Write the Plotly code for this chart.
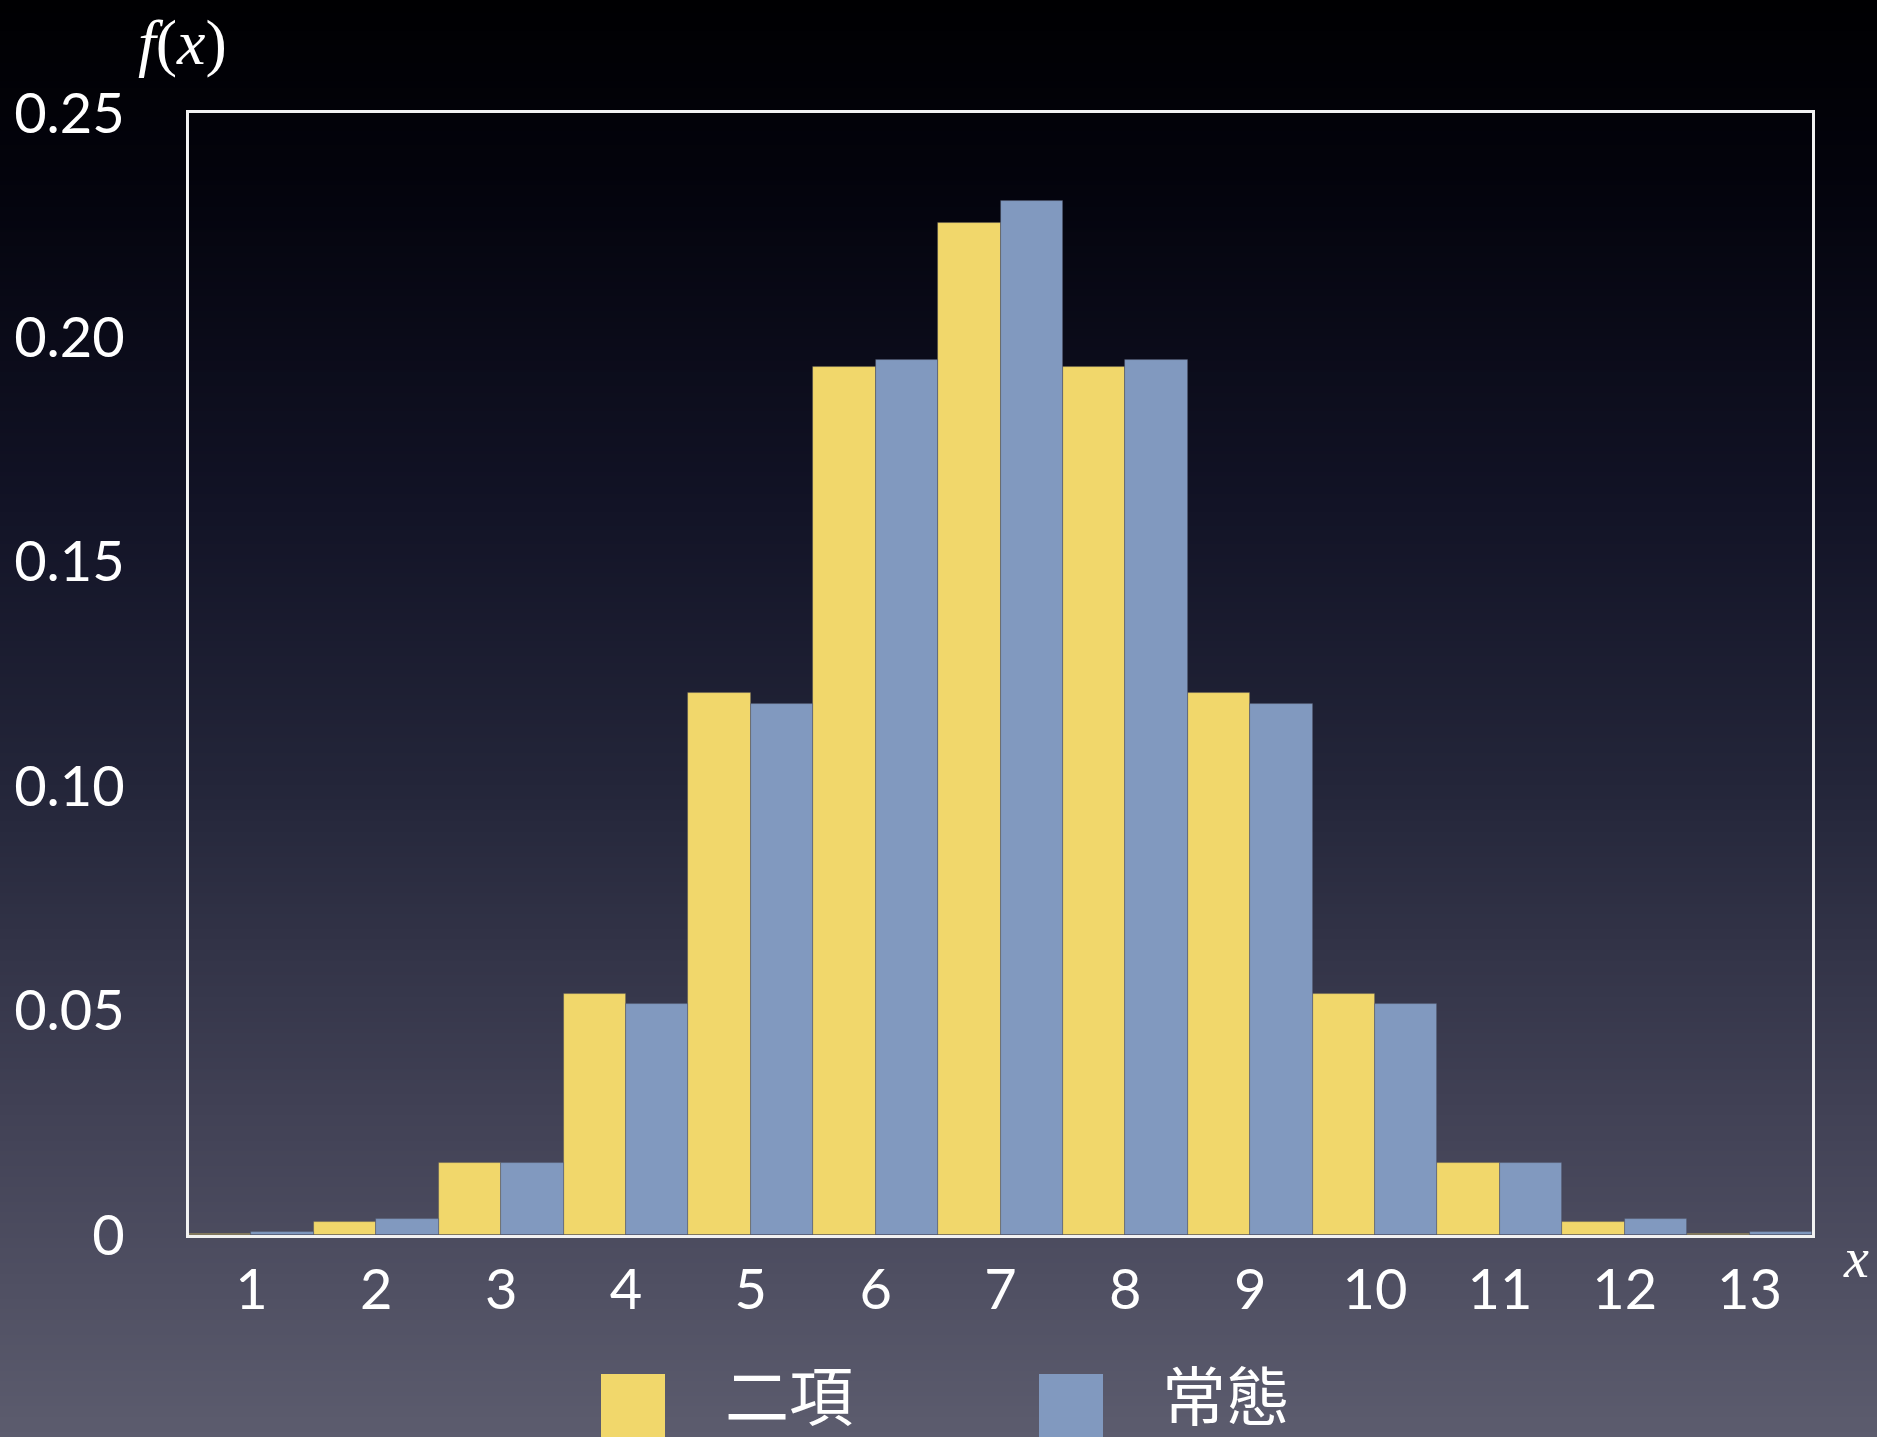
import base64
import struct
import zlib

import plotly.graph_objects as go

# Data: binomial probabilities vs. normal approximation, x = 1..13
categories = [str(i) for i in range(1, 14)]
binomial = [0.0002, 0.0029, 0.0161, 0.0537, 0.1208, 0.1934, 0.2256,
            0.1934, 0.1208, 0.0537, 0.0161, 0.0029, 0.0002]
normal = [0.0006, 0.0036, 0.0160, 0.0514, 0.1183, 0.1950, 0.2303,
          0.1950, 0.1183, 0.0514, 0.0160, 0.0036, 0.0006]
y_ticks = [0, 0.05, 0.10, 0.15, 0.20, 0.25]
y_tick_text = ["0", "0.05", "0.10", "0.15", "0.20", "0.25"]
series_names = ["二項", "常態"]

YELLOW = "#F1D76B"
BLUE = "#8199BF"
W, H = 1877, 1437
L, R, T, B = 189, 65, 113, 202


def gradient_png(stops, height=400, width=2):
    """Build a vertical gradient PNG (top to bottom) as a data URI."""
    rows = []
    for j in range(height):
        t = j / (height - 1)
        for k in range(len(stops) - 1):
            t0, c0 = stops[k]
            t1, c1 = stops[k + 1]
            if t0 <= t <= t1:
                f = (t - t0) / (t1 - t0) if t1 > t0 else 0
                c = [round(a + (b - a) * f) for a, b in zip(c0, c1)]
                break
        rows.append(b"\x00" + bytes(c) * width)
    raw = b"".join(rows)

    def chunk(tag, data):
        return (struct.pack(">I", len(data)) + tag + data
                + struct.pack(">I", zlib.crc32(tag + data) & 0xFFFFFFFF))

    png = (b"\x89PNG\r\n\x1a\n"
           + chunk(b"IHDR", struct.pack(">IIBBBBB", width, height, 8, 2, 0, 0, 0))
           + chunk(b"IDAT", zlib.compress(raw, 9))
           + chunk(b"IEND", b""))
    return "data:image/png;base64," + base64.b64encode(png).decode()


bg = gradient_png([
    (0.00, (0, 0, 2)),
    (0.12, (3, 3, 12)),
    (0.35, (18, 19, 38)),
    (0.55, (36, 38, 58)),
    (0.78, (66, 66, 86)),
    (1.00, (92, 92, 110)),
])

fig = go.Figure()
fig.add_trace(go.Bar(
    x=categories, y=binomial, name=series_names[0],
    marker=dict(color=YELLOW, line=dict(color="rgba(70,70,85,0.45)", width=0.8)),
))
fig.add_trace(go.Bar(
    x=categories, y=normal, name=series_names[1],
    marker=dict(color=BLUE, line=dict(color="rgba(70,70,85,0.45)", width=0.8)),
))

pw, ph = W - L - R, H - T - B
px = lambda x: (x - L) / pw
py = lambda y: (H - B - y) / ph

fig.add_layout_image(dict(
    source=bg, xref="paper", yref="paper",
    x=px(0), y=py(0), sizex=W / pw, sizey=H / ph,
    sizing="stretch", layer="below", xanchor="left", yanchor="top",
))

serif = "Liberation Serif, Times New Roman, serif"
sans = "Lato, Open Sans, sans-serif"
cjk = "Noto Sans CJK TC, Noto Sans CJK JP, sans-serif"

annotations = [
    dict(text="<i>f</i>(<i>x</i>)", x=px(182), y=py(42), xref="paper", yref="paper",
         showarrow=False, font=dict(family=serif, size=64, color="white"),
         xanchor="center", yanchor="middle"),
    dict(text="<i>x</i>", x=px(1856), y=py(1258), xref="paper", yref="paper",
         showarrow=False, font=dict(family=serif, size=56, color="white"),
         xanchor="center", yanchor="middle"),
    dict(text=series_names[0], x=px(789), y=py(1392), xref="paper", yref="paper",
         showarrow=False, font=dict(family=cjk, size=64, color="white"),
         xanchor="center", yanchor="middle", borderpad=0),
    dict(text=series_names[1], x=px(1226), y=py(1392), xref="paper", yref="paper",
         showarrow=False, font=dict(family=cjk, size=64, color="white"),
         xanchor="center", yanchor="middle", borderpad=0),
]

shapes = [
    dict(type="rect", xref="paper", yref="paper",
         x0=px(601), x1=px(665), y0=py(1374), y1=py(1460),
         fillcolor=YELLOW, line=dict(width=0)),
    dict(type="rect", xref="paper", yref="paper",
         x0=px(1039), x1=px(1103), y0=py(1374), y1=py(1460),
         fillcolor=BLUE, line=dict(width=0)),
]

fig.update_layout(
    width=W, height=H,
    margin=dict(l=L, r=R, t=T, b=B, pad=0),
    paper_bgcolor="rgba(0,0,0,0)",
    plot_bgcolor="rgba(0,0,0,0)",
    barmode="group", bargap=0, bargroupgap=0,
    showlegend=False,
    annotations=annotations,
    shapes=shapes,
    xaxis=dict(
        type="category", range=[-0.5, 12.5],
        showgrid=False, zeroline=False,
        showline=True, linecolor="#F2F2F2", linewidth=3, mirror=True,
        ticks="", ticklabelstandoff=4,
        tickfont=dict(family=sans, size=56, color="white"),
    ),
    yaxis=dict(
        range=[0, 0.25], tickvals=y_ticks, ticktext=y_tick_text,
        showgrid=False, zeroline=False,
        showline=True, linecolor="#F2F2F2", linewidth=3, mirror=True,
        ticks="", ticklabelstandoff=50,
        tickfont=dict(family=sans, size=56, color="white"),
    ),
)

fig.write_html("out.html")
